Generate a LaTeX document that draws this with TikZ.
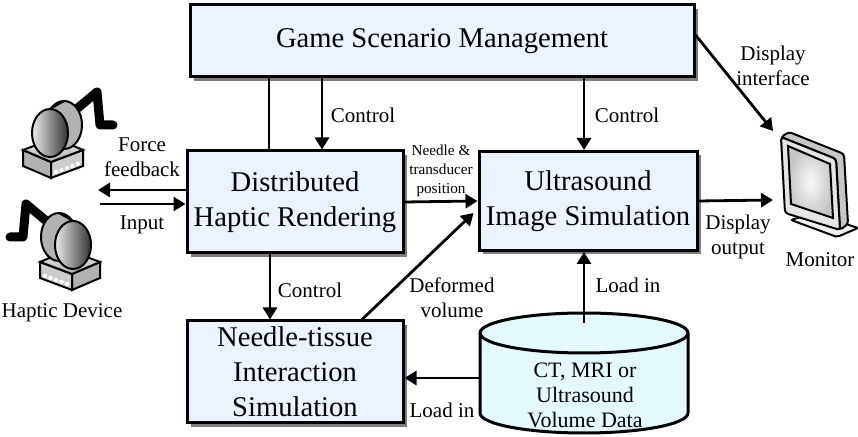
\documentclass[tikz,border=0pt]{standalone}
\usepackage{fontspec}
\setmainfont{Liberation Serif}
\usetikzlibrary{arrows.meta, positioning, shadows}
\definecolor{BoxBlue}{RGB}{234,243,255}
\definecolor{DiskCyan}{RGB}{228,249,252}
\definecolor{ShadowGray}{RGB}{125,125,125}

\tikzset{
  % desktop haptic arm on its base
  hapdev/.pic={
    \draw[line width=4.5pt, line cap=round, line join=round] (8,-36) -- (44,-66) -- (47,-33) -- (60,-33);
    \filldraw[fill=gray!60, line width=1pt] (-30,-8) -- (-2,4) -- (-2,20) -- (-30,8) -- cycle;
    \filldraw[fill=gray!40, line width=1pt] (-2,4) -- (30,-8) -- (30,8) -- (-2,20) -- cycle;
    \filldraw[top color=gray!10, bottom color=gray!65, line width=1pt] (-30,-8) -- (2,-20) -- (30,-8) -- (-2,4) -- cycle;
    \foreach \i in {0,...,4} \fill[white] (3+5.5*\i, 14-2*\i) circle[radius=1.1pt];
    % head
    \filldraw[fill=gray!60, line width=1pt] (11,-33) ellipse[x radius=9pt, y radius=12pt];
    \fill[gray!60] (-3,-49) -- (11,-57) -- (11,-9) -- (-3,-1) -- cycle;
    \draw[line width=1pt] (-3,-49) -- (11,-57) (11,-9) -- (-3,-1);
    \filldraw[left color=gray!15, right color=black!80, line width=1pt] (-3,-25) ellipse[x radius=9pt, y radius=12pt];
  },
  % flat screen on a stand
  monitor/.pic={
    \filldraw[fill=gray!12, line width=1pt, rounded corners=1pt] (10,30) -- (32,23) -- (77,38) -- (56,47) -- cycle;
    \filldraw[fill=gray!45, line width=1pt, rounded corners=1.5pt] (0,-53) -- (8,-58) -- (63,-36) -- (67,34) -- (59,40) -- (55,-31) -- cycle;
    \filldraw[fill=gray!20, line width=1pt, rounded corners=1.5pt] (0,-53) -- (55,-31) -- (59,40) -- (4,23) -- cycle;
    \filldraw[inner color=gray!5, outer color=gray!45, line width=1pt] (7,-44) -- (49,-26) -- (52,28) -- (10,14) -- cycle;
  }
}

\begin{document}
\begin{tikzpicture}[x=0.5pt, y=-0.5pt,
  blk/.style={draw, line width=1.5pt, fill=BoxBlue, align=center, inner sep=2pt,
    font=\fontsize{14.3}{17.5}\selectfont,
    drop shadow={shadow xshift=1.8pt, shadow yshift=-1.8pt, fill=ShadowGray, opacity=1}},
  flow/.style={-{Triangle[length=6pt, width=7pt]}, line width=1.4pt},
  wire/.style={line width=1.4pt},
  lbl/.style={align=center, inner sep=0pt, font=\fontsize{10.5}{12.5}\selectfont},
  tinylbl/.style={align=center, inner sep=0pt, font=\fontsize{7.6}{9.5}\selectfont},
]
\useasboundingbox (0,0) rectangle (858,437);

% ---- processing blocks ----
\node[blk, minimum width=252pt, minimum height=36pt] (gsm) at (442,41) {Game Scenario Management};
\node[blk, minimum width=108pt, minimum height=51pt] (dhr) at (295,202) {Distributed\\Haptic Rendering};
\node[blk, minimum width=109pt, minimum height=49.5pt] (uis) at (588,201) {Ultrasound\\Image Simulation};
\node[blk, minimum width=108pt, minimum height=51pt] (nts) at (295,372) {Needle-tissue\\Interaction\\Simulation};

% ---- volume data store ----
\begin{scope}[shift={(584,333)}, x=1pt, y=1pt]
  \filldraw[fill=DiskCyan, line width=1.5pt] (-52,0) -- (-52,-40)
    arc[start angle=180, end angle=360, x radius=52, y radius=10] -- (52,0)
    arc[start angle=0, end angle=180, x radius=52, y radius=10] -- cycle;
  \draw[line width=1.5pt] (-52,0) arc[start angle=180, end angle=360, x radius=52, y radius=10];
\end{scope}
\node[lbl, font=\fontsize{11}{12.5}\selectfont] (vol) at (585,395) {CT, MRI or\\Ultrasound\\Volume Data};
\coordinate (voltop) at (584,323);
\coordinate (volw) at (481,378);

% ---- devices ----
\pic at (53,158) {hapdev};
\pic[xscale=-1] at (70,270) {hapdev};
\node[lbl] (hdlbl) at (62,313) {Haptic Device};
\pic at (781,190) {monitor};
\node[lbl] (monlbl) at (820,260) {Monitor};
\coordinate (ffend) at (98,190);
\coordinate (instart) at (100,204);
\coordinate (scr) at (773,200);
\coordinate (scrtop) at (773,131);

% ---- control links ----
\draw[wire] ([xshift=-13pt]dhr.north) -- ([xshift=-13pt]dhr.north |- gsm.south);
\draw[flow] ([xshift=13.5pt]dhr.north |- gsm.south) -- ([xshift=13.5pt]dhr.north);
\node[lbl] (ctla) at (363,115) {Control};
\draw[flow] ([xshift=-2pt]uis.north |- gsm.south) -- ([xshift=-2pt]uis.north);
\node[lbl] (ctlb) at (627,115) {Control};
\draw[flow] ([xshift=-12.5pt]dhr.south) -- ([xshift=-12.5pt]dhr.south |- nts.north);
\node[lbl] (ctlc) at (310,290) {Control};

% ---- data links ----
\draw[flow] (ffend -| dhr.west) -- (ffend);
\draw[flow] (instart) -- (instart -| dhr.west);
\node[lbl] (ff) at (142,157) {Force\\feedback};
\node[lbl] (inp) at (142,225) {Input};

\draw[flow] (dhr.east) -- (uis.west);
\node[tinylbl] (pos) at (441,171) {Needle \&\\transducer\\position};
\draw[flow] ([xshift=33.5pt]nts.north) -- ([xshift=-2pt, yshift=-6pt]uis.west);
\node[lbl] (defv) at (452,298) {Deformed\\volume};

\draw[flow] (voltop) -- (voltop |- uis.south);
\node[lbl] (ldup) at (628,285) {Load in};
\draw[flow] (volw) -- (volw -| nts.east);
\node[lbl] (ldleft) at (442,410) {Load in};

\draw[flow] (uis.east) -- (scr);
\node[lbl] (dout) at (738,237) {Display\\output};
\draw[flow] ([yshift=3pt]gsm.east) -- (scrtop);
\node[lbl] (dint) at (773,66) {Display\\interface};

\end{tikzpicture}
\end{document}
